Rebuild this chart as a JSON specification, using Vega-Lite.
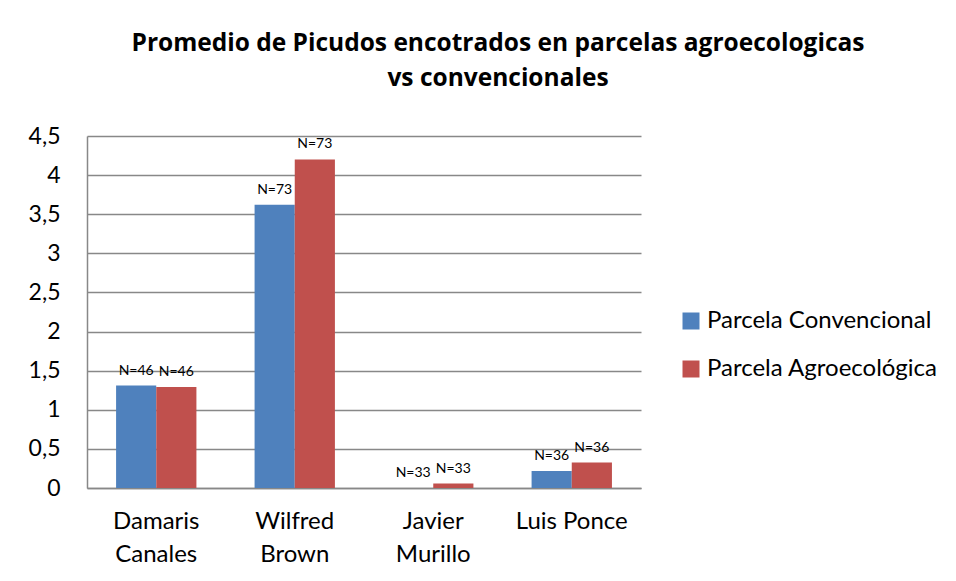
{
  "$schema": "https://vega.github.io/schema/vega-lite/v6.json",
  "width": 554,
  "height": 352,
  "autosize": {"type": "none"},
  "padding": {"left": 87, "top": 136, "right": 315, "bottom": 93},
  "background": "white",
  "config": {
    "font": "Lato",
    "view": {"stroke": null}
  },
  "title": {
    "text": ["Promedio de Picudos encotrados en parcelas agroecologicas", "vs convencionales"],
    "font": "Open Sans",
    "fontSize": 24.5,
    "fontWeight": "bold",
    "color": "#000000",
    "anchor": "middle",
    "dx": 134,
    "offset": 34,
    "lineHeight": 35
  },
  "data": {
    "values": [
      {"persona": "Damaris Canales", "parcela": "Parcela Convencional", "promedio": 1.31, "n": "N=46"},
      {"persona": "Damaris Canales", "parcela": "Parcela Agroecológica", "promedio": 1.29, "n": "N=46"},
      {"persona": "Wilfred Brown", "parcela": "Parcela Convencional", "promedio": 3.62, "n": "N=73"},
      {"persona": "Wilfred Brown", "parcela": "Parcela Agroecológica", "promedio": 4.2, "n": "N=73"},
      {"persona": "Javier Murillo", "parcela": "Parcela Convencional", "promedio": 0, "n": "N=33"},
      {"persona": "Javier Murillo", "parcela": "Parcela Agroecológica", "promedio": 0.056, "n": "N=33"},
      {"persona": "Luis Ponce", "parcela": "Parcela Convencional", "promedio": 0.217, "n": "N=36"},
      {"persona": "Luis Ponce", "parcela": "Parcela Agroecológica", "promedio": 0.325, "n": "N=36"}
    ]
  },
  "encoding": {
    "x": {
      "field": "persona",
      "type": "nominal",
      "sort": null,
      "scale": {"paddingInner": 0.42, "paddingOuter": 0.21},
      "axis": {
        "title": null,
        "labelAngle": 0,
        "labelFontSize": 24,
        "labelColor": "#000000",
        "labelExpr": "datum.label == 'Luis Ponce' ? datum.label : split(datum.label, ' ')",
        "labelLineHeight": 33,
        "labelPadding": 21,
        "labelLimit": 300,
        "ticks": false,
        "domainColor": "#888888",
        "domainWidth": 1.5,
        "labelBaseline": "top"
      }
    },
    "xOffset": {"field": "parcela", "type": "nominal", "sort": ["Parcela Convencional", "Parcela Agroecológica"]},
    "y": {
      "field": "promedio",
      "type": "quantitative",
      "scale": {"domain": [0, 4.5]},
      "axis": {
        "title": null,
        "values": [0, 0.5, 1, 1.5, 2, 2.5, 3, 3.5, 4, 4.5],
        "labelExpr": "replace(format(datum.value, '~g'), '.', ',')",
        "labelFontSize": 23,
        "labelColor": "#000000",
        "labelPadding": 27,
        "ticks": false,
        "gridColor": "#888888",
        "gridWidth": 1.5,
        "domainColor": "#888888",
        "domainWidth": 1.5
      }
    }
  },
  "layer": [
    {
      "mark": {"type": "bar"},
      "encoding": {
        "color": {
          "field": "parcela",
          "type": "nominal",
          "sort": ["Parcela Convencional", "Parcela Agroecológica"],
          "scale": {"domain": ["Parcela Convencional", "Parcela Agroecológica"], "range": ["#4f81bd", "#c0504d"]},
          "legend": {
            "title": null,
            "orient": "none",
            "legendX": 592,
            "legendY": 173,
            "symbolType": "square",
            "symbolSize": 289,
            "symbolStrokeWidth": 0,
            "labelFontSize": 24,
            "labelColor": "#000000",
            "labelOffset": 4,
            "rowPadding": 24,
            "labelLimit": 400
          }
        }
      }
    },
    {
      "mark": {"type": "text", "dy": -8, "fontSize": 14, "color": "#000000", "baseline": "bottom"},
      "encoding": {
        "text": {"field": "n"}
      }
    }
  ]
}
